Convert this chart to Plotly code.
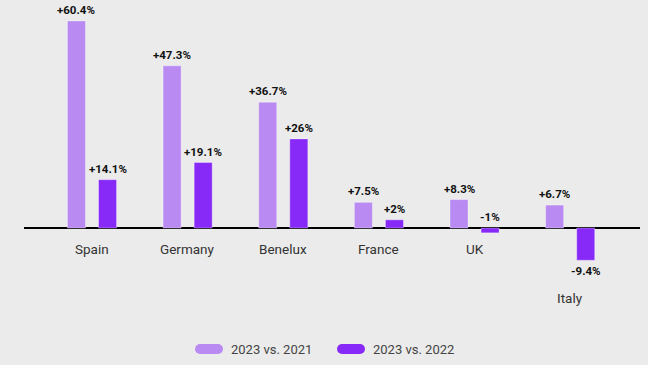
import plotly.graph_objects as go

categories = ["Spain", "Germany", "Benelux", "France", "UK", "Italy"]
vs_2021 = [60.4, 47.3, 36.7, 7.5, 8.3, 6.7]
vs_2022 = [14.1, 19.1, 26.0, 2.4, -1.4, -9.4]
labels_2021 = ["+60.4%", "+47.3%", "+36.7%", "+7.5%", "+8.3%", "+6.7%"]
labels_2022 = ["+14.1%", "+19.1%", "+26%", "+2%", "-1%", "-9.4%"]
series_names = ["2023 vs. 2021", "2023 vs. 2022"]

LIGHT = "#b98af2"
DARK = "#8729f7"
BG = "#ebebeb"
BARGAP = 0.35
FONT = "Roboto, Arial, sans-serif"
W, H = 648, 365
ML, MR, MT, MB = 24, 8, 0, 55
PW, PH = W - ML - MR, H - MT - MB


def px_x(p):
    return (p - ML) / PW


def px_y(p):
    return (H - MB - p) / PH


x = list(range(len(categories)))
fig = go.Figure()
fig.add_bar(x=x, y=vs_2021, name=series_names[0], marker=dict(color=LIGHT, line=dict(color="rgba(255,255,255,0.35)", width=1)), showlegend=False)
fig.add_bar(x=x, y=vs_2022, name=series_names[1], marker=dict(color=DARK, line=dict(color="rgba(255,255,255,0.35)", width=1)), showlegend=False)

half = (1 - BARGAP) / 4
annotations = []
for vals, labs, sign in ((vs_2021, labels_2021, -1), (vs_2022, labels_2022, 1)):
    for i, (v, t) in enumerate(zip(vals, labs)):
        if v >= 0 or v > -3:
            ypos, anchor, shift = (max(v, 0), "bottom", 2)
        else:
            ypos, anchor, shift = (v, "top", -2)
        annotations.append(dict(x=i + sign * half, y=ypos, text=t, showarrow=False,
                                yanchor=anchor, yshift=shift, xanchor="center",
                                font=dict(family=FONT, size=11.5, color="#111", weight="bold")))

for i, c in enumerate(categories):
    lo = min(vs_2021[i], vs_2022[i], 0)
    if lo < -3:
        ypos, shift = lo, -28
    else:
        ypos, shift = 0, -11
    annotations.append(dict(x=i, y=ypos, text=c, showarrow=False, yanchor="top", yshift=shift,
                            xanchor="center", font=dict(family=FONT, size=13.5, color="#333")))

# custom legend with pill markers
legend_items = [(LIGHT, series_names[0], 195), (DARK, series_names[1], 337)]
shapes = []
for col, name, px in legend_items:
    shapes.append(dict(type="rect", xref="paper", yref="paper",
                       x0=px_x(px + 5), x1=px_x(px + 23), y0=px_y(354), y1=px_y(344),
                       fillcolor=col, line=dict(width=0)))
    for cx in (px + 5, px + 23):
        shapes.append(dict(type="circle", xref="paper", yref="paper",
                           x0=px_x(cx - 5), x1=px_x(cx + 5), y0=px_y(354), y1=px_y(344),
                           fillcolor=col, line=dict(width=0)))
    annotations.append(dict(xref="paper", yref="paper", x=px_x(px + 34), y=px_y(349), text=name,
                            showarrow=False, xanchor="left", yanchor="middle",
                            font=dict(family=FONT, size=13, color="#444")))

fig.update_layout(
    width=W, height=H,
    margin=dict(l=ML, r=MR, t=MT, b=MB),
    paper_bgcolor=BG, plot_bgcolor=BG,
    barmode="group", bargap=BARGAP, bargroupgap=0.42,
    xaxis=dict(range=[-0.711, 5.73], showticklabels=False, showgrid=False, zeroline=False, showline=False),
    yaxis=dict(range=[-23.9, 66.5], showticklabels=False, showgrid=False, zeroline=True,
               zerolinecolor="#000", zerolinewidth=1.5),
    annotations=annotations, shapes=shapes,
    font=dict(family=FONT),
)
fig.write_html("out.html", config={"displayModeBar": False})

with open("out.html", "r", encoding="utf-8") as f:
    html = f.read()
html = html.replace("<head>", "<head><style>html,body{margin:0;padding:0;background:#ebebeb;}</style>", 1)
with open("out.html", "w", encoding="utf-8") as f:
    f.write(html)
